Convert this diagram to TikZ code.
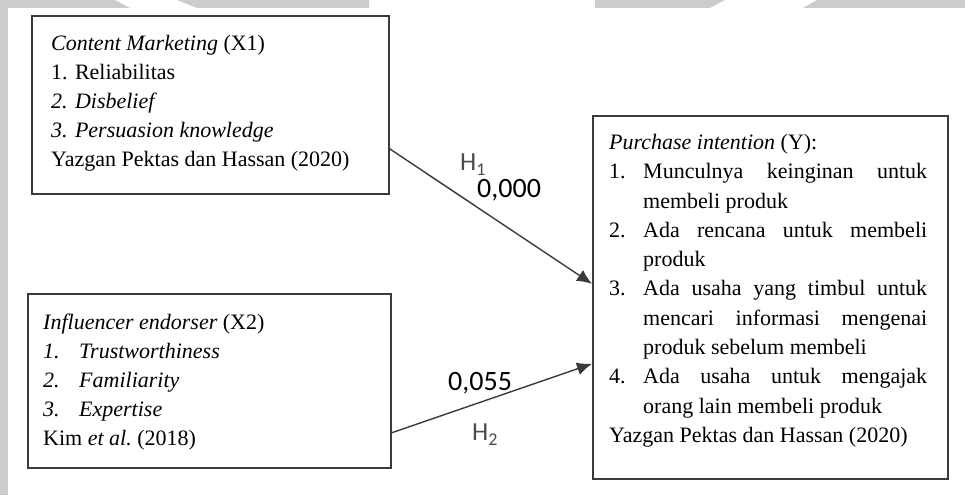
\documentclass[tikz,border=0pt]{standalone}
\usepackage{fontspec}
\setmainfont{Liberation Serif}
\newfontfamily\lblfont{Carlito}
\usetikzlibrary{arrows.meta}
\definecolor{wmgrey}{HTML}{CCCCCC}
\definecolor{edgegrey}{HTML}{3A3A3A}

\begin{document}
\begin{tikzpicture}[x=1pt,y=-1pt,
  box/.style={draw=edgegrey, line width=1.6pt, inner sep=0pt, anchor=north west},
  body/.style={inner sep=0pt, anchor=north west, align=left, font=\fontsize{22}{29}\selectfont},
  link/.style={draw=edgegrey, line width=1.4pt, -{Latex[length=15pt,width=13pt]}},
  lbl/.style={inner sep=0pt, anchor=base west, font=\lblfont\fontsize{28}{30}\selectfont},
  hlbl/.style={inner sep=0pt, anchor=base west, text=black!70, font=\lblfont\fontsize{26}{28}\selectfont}]

\useasboundingbox (0,0) rectangle (965,495);
\fill[white] (0,0) rectangle (965,495);

% grey bands along the top and left margins
\fill[wmgrey] (0,0) rectangle (8,495);
\fill[wmgrey] (0,0) -- (115,0) -- (130,8) -- (0,8) -- cycle;
\fill[wmgrey] (177,0) -- (369,0) -- (369,8) -- (197,8) -- cycle;
\fill[wmgrey] (595,0) -- (725,0) -- (710,8) -- (595,8) -- cycle;
\fill[wmgrey] (817,0) -- (965,0) -- (965,8) -- (803,8) -- cycle;

% variable boxes
\node[box, minimum width=357pt, minimum height=178pt] (box1) at (31,15) {};
\node[box, minimum width=363pt, minimum height=174pt] (box2) at (27,293) {};
\node[box, minimum width=355pt, minimum height=363pt] (box3) at (592,115) {};

% box contents
\node[body] (t1) at (51,29.7) {\strut\textit{Content Marketing} (X1)\\
  1. Reliabilitas\\
  \textit{2. Disbelief}\\
  \textit{3. Persuasion knowledge}\\
  Yazgan Pektas dan Hassan (2020)};

\node[body] (t2) at (43,308.7) {\strut\textit{Influencer endorser} (X2)\\
  \makebox[36pt][l]{\textit{1.}}\textit{Trustworthiness}\\
  \makebox[36pt][l]{\textit{2.}}\textit{Familiarity}\\
  \makebox[36pt][l]{\textit{3.}}\textit{Expertise}\\
  Kim \textit{et al.}\ (2018)};

\node[body, font=\fontsize{22}{29.3}\selectfont] (t3) at (609,128.7) {\strut\textit{Purchase intention} (Y):\\
  \makebox[34pt][l]{1.}\makebox[284pt][s]{Munculnya keinginan untuk}\\
  \hspace*{34pt}membeli produk\\
  \makebox[34pt][l]{2.}\makebox[284pt][s]{Ada rencana untuk membeli}\\
  \hspace*{34pt}produk\\
  \makebox[34pt][l]{3.}\makebox[284pt][s]{Ada usaha yang timbul untuk}\\
  \hspace*{34pt}\makebox[284pt][s]{mencari informasi mengenai}\\
  \hspace*{34pt}produk sebelum membeli\\
  \makebox[34pt][l]{4.}\makebox[284pt][s]{Ada usaha untuk mengajak}\\
  \hspace*{34pt}orang lain membeli produk\\
  Yazgan Pektas dan Hassan (2020)};

% hypothesis paths
\draw[link] ([yshift=-44pt]box1.east) -- ([yshift=13.5pt]box3.west);
\draw[link] ([yshift=-52pt]box2.east) -- ([yshift=-66.5pt]box3.west);

% path labels
\node[hlbl] (h1) at (460,170) {H\raisebox{-5pt}{\fontsize{18}{18}\selectfont 1}};
\node[lbl] (p1) at (477,197) {0,000};
\node[lbl] (p2) at (448,390) {0,055};
\node[hlbl] (h2) at (472,440) {H\raisebox{-5pt}{\fontsize{18}{18}\selectfont 2}};
\end{tikzpicture}
\end{document}
